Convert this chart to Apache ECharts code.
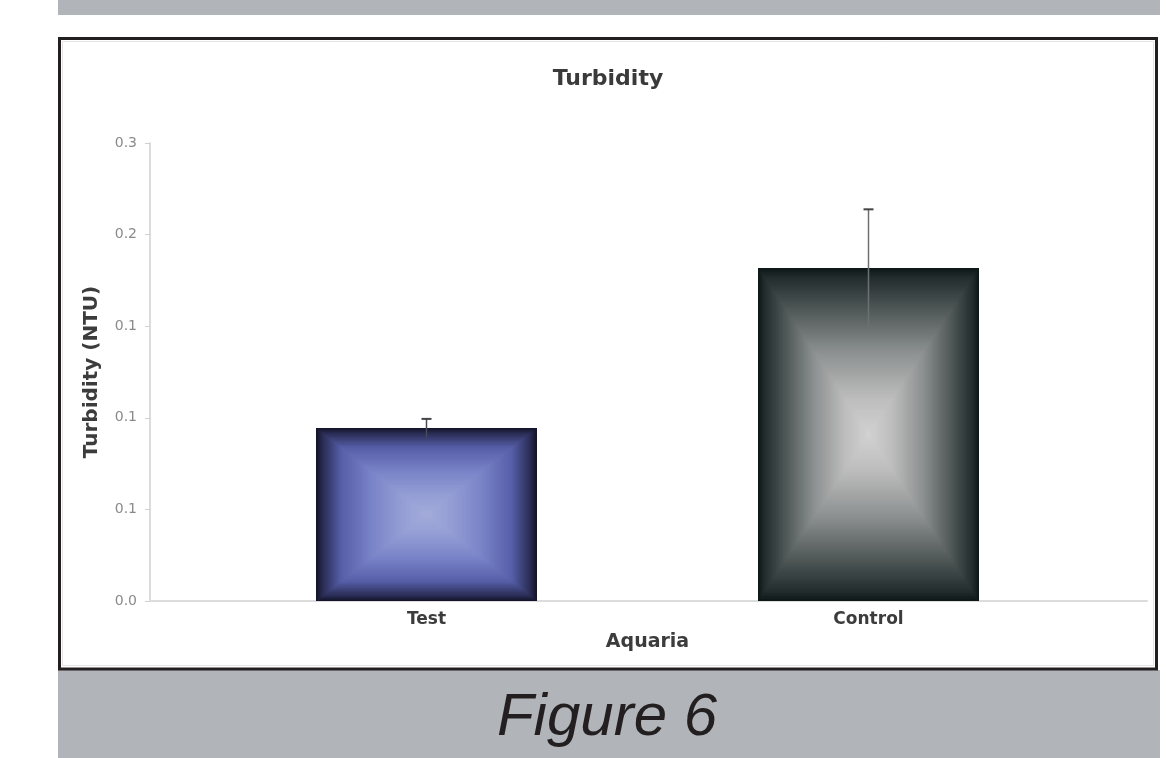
<!DOCTYPE html>
<html>
<head>
<meta charset="utf-8">
<script src="https://cdn.jsdelivr.net/npm/echarts@6/dist/echarts.min.js"></script>
<style>
html,body{margin:0;padding:0;background:#fff;}
#chart{width:1166px;height:758px;}
</style>
</head>
<body>
<div id="chart"></div>
<script>
// ---- data ----
const categories = ['Test', 'Control'];
const means = [0.0944, 0.1818];
const errors = [0.005, 0.032];
const yTicks = { min: 0, max: 0.25, interval: 0.05 };
const chartTitle = 'Turbidity';
const yName = 'Turbidity (NTU)';
const xName = 'Aquaria';
const figureLabel = 'Figure 6';

// ---- styles ----
const gradStops = [
  [[0, '#14142a'], [0.05, '#282b52'], [0.22, '#565ea8'], [0.5, '#7a84c8'], [0.78, '#959fd5'], [1, '#a3acda']],
  [[0, '#0f1818'], [0.05, '#222c2c'], [0.22, '#4a5252'], [0.5, '#8c9090'], [0.78, '#bdbdbd'], [1, '#d2d2d2']]
];
function hex2rgb(h){return [parseInt(h.substr(1,2),16),parseInt(h.substr(3,2),16),parseInt(h.substr(5,2),16)];}
function colorAt(stops, t){
  for (let i=1;i<stops.length;i++){
    if (t<=stops[i][0]){
      const a=stops[i-1], b=stops[i];
      const f=(t-a[0])/(b[0]-a[0]);
      const ca=hex2rgb(a[1]), cb=hex2rgb(b[1]);
      return 'rgb('+ca.map((v,k)=>Math.round(v+(cb[k]-v)*f)).join(',')+')';
    }
  }
  return stops[stops.length-1][1];
}

const seriesData = categories.map((c,i)=>[i, means[i], errors[i]]);

const chart = echarts.init(document.getElementById('chart'), null, {renderer:'canvas'});
const FONT = 'DejaVu Sans';

const option = {
  animation: false,
  backgroundColor: '#ffffff',
  graphic: [
    {type:'rect', shape:{x:58,y:0,width:1102,height:15}, style:{fill:'#b1b5b9'}, z:-10},
    {type:'rect', shape:{x:58,y:670,width:1102,height:88}, style:{fill:'#b1b5b9'}, z:-10},
    {type:'rect', shape:{x:59.5,y:38.5,width:1097,height:630.5}, style:{fill:'none', stroke:'#231f20', lineWidth:3}, z:-5},
    {type:'rect', shape:{x:62.5,y:41.5,width:1091,height:624}, style:{fill:'none', stroke:'#e4e4e4', lineWidth:1}, z:-5},
    {type:'text', x:608, y:79, style:{text:chartTitle, font:'bold 22px "'+FONT+'"', fill:'#3a3a3a', align:'center', verticalAlign:'middle'}},
    {type:'text', x:607, y:718, style:{text:figureLabel, font:'italic 60px "Liberation Sans"', fill:'#231f20', align:'center', verticalAlign:'middle'}}
  ],
  grid: [
    {left:150, right:19, top:143, bottom:157},
    {left:205.5, right:76.5, top:143, bottom:157}
  ],
  xAxis: [
    {gridIndex:0, type:'value', min:0, max:1, axisLine:{show:true, onZero:false, lineStyle:{color:'#dcdcdc', width:2}}, axisTick:{show:false}, axisLabel:{show:false}, splitLine:{show:false}},
    {gridIndex:1, type:'category', data:categories, axisLine:{show:false}, axisTick:{show:false},
     axisLabel:{margin:10, color:'#3c3c3c', fontFamily:FONT, fontWeight:'bold', fontSize:17},
     name:xName, nameLocation:'middle', nameGap:27,
     nameTextStyle:{color:'#3c3c3c', fontFamily:FONT, fontWeight:'bold', fontSize:19}}
  ],
  yAxis: [
    {gridIndex:0, type:'value', min:yTicks.min, max:yTicks.max, interval:yTicks.interval,
     axisLine:{show:true, lineStyle:{color:'#d0d0d0', width:1.5}},
     axisTick:{show:true, length:5, lineStyle:{color:'#d0d0d0'}},
     axisLabel:{margin:13, color:'#8a8a8a', fontFamily:FONT, fontSize:14, formatter:v=>v.toFixed(1)},
     splitLine:{show:false},
     name:yName, nameLocation:'middle', nameGap:48,
     nameTextStyle:{color:'#3c3c3c', fontFamily:FONT, fontWeight:'bold', fontSize:20}},
    {gridIndex:1, type:'value', min:yTicks.min, max:yTicks.max, interval:yTicks.interval, show:false}
  ],
  series: [{
    type:'custom', xAxisIndex:1, yAxisIndex:1, data:seriesData,
    renderItem: function(params, api){
      const idx = api.value(0);
      const top = api.coord([idx, api.value(1)]);
      const base = api.coord([idx, 0]);
      const bw = api.size([1, 0])[0] * 0.5;
      const cx = top[0];
      const hw = bw/2, hh = (base[1]-top[1])/2, cy = (base[1]+top[1])/2;
      const stops = gradStops[idx];
      const children = [];
      const N = 80;
      for (let k=0;k<N;k++){
        const t = k/N;
        const w = hw*(1-t), h = hh*(1-t);
        children.push({type:'rect', shape:{x:cx-w, y:cy-h, width:2*w, height:2*h}, style:{fill:colorAt(stops, t)}});
      }
      const eTop = api.coord([idx, api.value(1)+api.value(2)]);
      const eBot = api.coord([idx, api.value(1)-api.value(2)]);
      children.push({type:'line', shape:{x1:cx, y1:eTop[1], x2:cx, y2:eBot[1]}, style:{stroke: idx===0?'#4a4a55':'#6c7070', lineWidth:1.5}});
      children.push({type:'line', shape:{x1:cx-5, y1:eTop[1], x2:cx+5, y2:eTop[1]}, style:{stroke:'#444', lineWidth:2}});
      return {type:'group', children:children};
    }
  }]
};
chart.setOption(option);
</script>
</body>
</html>
